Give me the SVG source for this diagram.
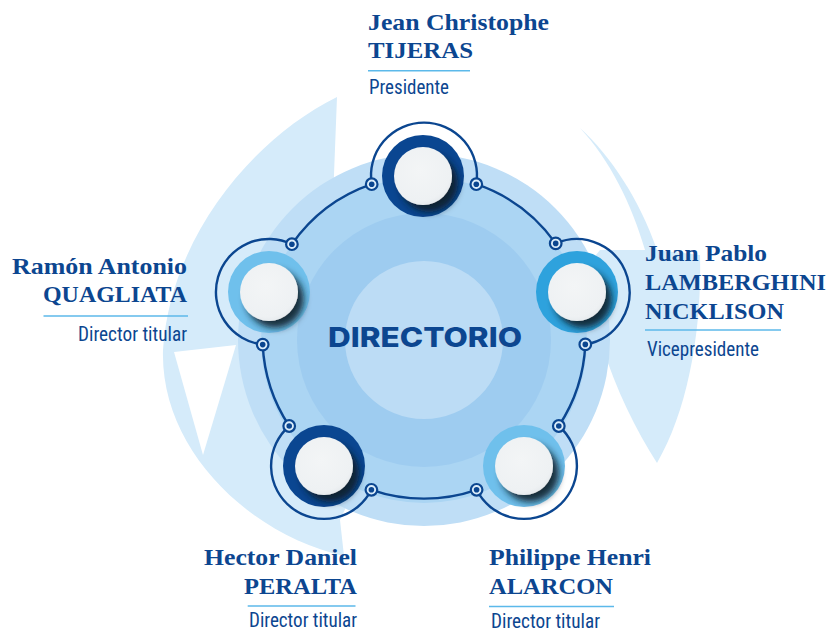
<svg xmlns="http://www.w3.org/2000/svg" width="829" height="633" viewBox="0 0 829 633">
<defs>
<style>
.name{font-family:"Liberation Serif","Times New Roman",serif;font-weight:700;font-size:24px;fill:#0C4690}
.role{font-family:"Roboto Condensed","Roboto","Liberation Sans",sans-serif;font-size:20px;fill:#0C4690}
.rule{stroke:#5CB9EA;stroke-width:1.6}
.conn{fill:none;stroke:#0B4690;stroke-width:2.4}
.dot{fill:#DCEDFA;stroke:#0B4690;stroke-width:2.2}
.dotc{fill:#0B4690}
.face{fill:url(#face);filter:url(#sh)}
.swirl{fill:#D5EBFA}
</style>
<radialGradient id="face" cx="45%" cy="40%" r="62%"><stop offset="0" stop-color="#F3F5F6"/><stop offset="0.85" stop-color="#EEF1F3"/><stop offset="1" stop-color="#E6EAED"/></radialGradient>
<filter id="sh" x="-50%" y="-50%" width="200%" height="200%"><feDropShadow dx="6" dy="7" stdDeviation="3.8" flood-color="#0A1A2C" flood-opacity="0.9"/></filter>
</defs>
<rect width="829" height="633" fill="#FFFFFF"/>
<g id="background">
<path class="swirl" d="M337,97 L333,200 L424,340 L340,520 L344,556 C250,535 160,450 163,350 C170,240 250,140 337,97 Z"/>
<path fill="#FFFFFF" d="M174,352 L236,345 L203,455 Z"/>
<path class="swirl" d="M580,128 C610,155 640,200 657,250 L700,255 C702,330 688,410 657,463 C636,430 616,390 602,345 L560,300 L600,250 L645,250 C632,205 610,160 580,128 Z"/>
<circle cx="424" cy="340" r="186" fill="#BFDEF6"/>
<circle cx="424" cy="340" r="163" fill="#ABD5F3"/>
<circle cx="424" cy="340" r="127" fill="#9ECCF0"/>
<circle cx="424" cy="340" r="79" fill="#BCDCF5"/>
<text x="425" y="347" text-anchor="middle" font-family="Inter,'Open Sans','Liberation Sans',sans-serif" font-weight="800" font-size="27" fill="#0C4690" textLength="194" lengthAdjust="spacingAndGlyphs">DIRECTORIO</text>
</g>
<g id="connectors">
<path class="conn" d="M476.3,184.2 A161.5,161.5 0 0 1 555.7,243.4"/>
<path class="conn" d="M585.3,344.4 A161.5,161.5 0 0 1 558.8,426"/>
<path class="conn" d="M476.6,489.8 A161.5,161.5 0 0 1 371.4,489.8"/>
<path class="conn" d="M289.2,426 A161.5,161.5 0 0 1 262.7,344.6"/>
<path class="conn" d="M291.9,244.2 A161.5,161.5 0 0 1 371.7,184.2"/>
</g>
<g id="node-top">
<path class="conn" d="M371.7,184.2 A53,53 0 1 1 476.3,184.2"/>
<circle class="dot" cx="371.7" cy="184.2" r="5.8"/><circle class="dotc" cx="371.7" cy="184.2" r="2.8"/>
<circle class="dot" cx="476.3" cy="184.2" r="5.8"/><circle class="dotc" cx="476.3" cy="184.2" r="2.8"/>
<circle cx="423" cy="176" r="41" fill="#0A4691"/>
<circle class="face" cx="423" cy="176" r="29"/>
<text class="name" x="368" y="30" textLength="181" lengthAdjust="spacingAndGlyphs">Jean Christophe</text>
<text class="name" x="368" y="58" textLength="105" lengthAdjust="spacingAndGlyphs">TIJERAS</text>
<line class="rule" x1="368" y1="70.7" x2="470" y2="70.7"/>
<text class="role" x="369" y="94" textLength="80" lengthAdjust="spacingAndGlyphs">Presidente</text>
</g>
<g id="node-right">
<path class="conn" d="M555.7,243.4 A53,53 0 1 1 585.3,344.4"/>
<circle class="dot" cx="555.7" cy="243.4" r="5.8"/><circle class="dotc" cx="555.7" cy="243.4" r="2.8"/>
<circle class="dot" cx="585.3" cy="344.4" r="5.8"/><circle class="dotc" cx="585.3" cy="344.4" r="2.8"/>
<circle cx="577" cy="292" r="41" fill="#2EA2DD"/>
<circle class="face" cx="577" cy="292" r="29"/>
<text class="name" x="645" y="261" textLength="122" lengthAdjust="spacingAndGlyphs">Juan Pablo</text>
<text class="name" x="645" y="290" textLength="181" lengthAdjust="spacingAndGlyphs">LAMBERGHINI</text>
<text class="name" x="645" y="319" textLength="139" lengthAdjust="spacingAndGlyphs">NICKLISON</text>
<line class="rule" x1="645" y1="330" x2="781" y2="330"/>
<text class="role" x="647" y="356" textLength="112" lengthAdjust="spacingAndGlyphs">Vicepresidente</text>
</g>
<g id="node-bottom-right">
<path class="conn" d="M558.8,426 A53,53 0 1 1 476.6,489.8"/>
<circle class="dot" cx="558.8" cy="426" r="5.8"/><circle class="dotc" cx="558.8" cy="426" r="2.8"/>
<circle class="dot" cx="476.6" cy="489.8" r="5.8"/><circle class="dotc" cx="476.6" cy="489.8" r="2.8"/>
<circle cx="524" cy="466" r="41" fill="#6FC0EC"/>
<circle class="face" cx="524" cy="466" r="29"/>
<text class="name" x="489" y="565" textLength="162" lengthAdjust="spacingAndGlyphs">Philippe Henri</text>
<text class="name" x="489" y="594" textLength="124" lengthAdjust="spacingAndGlyphs">ALARCON</text>
<line class="rule" x1="489" y1="606.5" x2="614" y2="606.5"/>
<text class="role" x="491" y="627.5" textLength="109" lengthAdjust="spacingAndGlyphs">Director titular</text>
</g>
<g id="node-bottom-left">
<path class="conn" d="M371.4,489.8 A53,53 0 1 1 289.2,426"/>
<circle class="dot" cx="371.4" cy="489.8" r="5.8"/><circle class="dotc" cx="371.4" cy="489.8" r="2.8"/>
<circle class="dot" cx="289.2" cy="426" r="5.8"/><circle class="dotc" cx="289.2" cy="426" r="2.8"/>
<circle cx="324" cy="466" r="41" fill="#0A4691"/>
<circle class="face" cx="324" cy="466" r="29"/>
<text class="name" x="357" y="565" text-anchor="end" textLength="153" lengthAdjust="spacingAndGlyphs">Hector Daniel</text>
<text class="name" x="357" y="594" text-anchor="end" textLength="113" lengthAdjust="spacingAndGlyphs">PERALTA</text>
<line class="rule" x1="247.7" y1="606" x2="355.5" y2="606"/>
<text class="role" x="357" y="627" text-anchor="end" textLength="108" lengthAdjust="spacingAndGlyphs">Director titular</text>
</g>
<g id="node-left">
<path class="conn" d="M262.7,344.6 A53,53 0 1 1 291.9,244.2"/>
<circle class="dot" cx="262.7" cy="344.6" r="5.8"/><circle class="dotc" cx="262.7" cy="344.6" r="2.8"/>
<circle class="dot" cx="291.9" cy="244.2" r="5.8"/><circle class="dotc" cx="291.9" cy="244.2" r="2.8"/>
<circle cx="269" cy="292" r="41" fill="#6FC0EC"/>
<circle class="face" cx="269" cy="292" r="29"/>
<text class="name" x="187" y="274" text-anchor="end" textLength="175" lengthAdjust="spacingAndGlyphs">Ramón Antonio</text>
<text class="name" x="187" y="302" text-anchor="end" textLength="144" lengthAdjust="spacingAndGlyphs">QUAGLIATA</text>
<line class="rule" x1="43.5" y1="316" x2="188" y2="316"/>
<text class="role" x="187" y="341" text-anchor="end" textLength="109" lengthAdjust="spacingAndGlyphs">Director titular</text>
</g>
</svg>
